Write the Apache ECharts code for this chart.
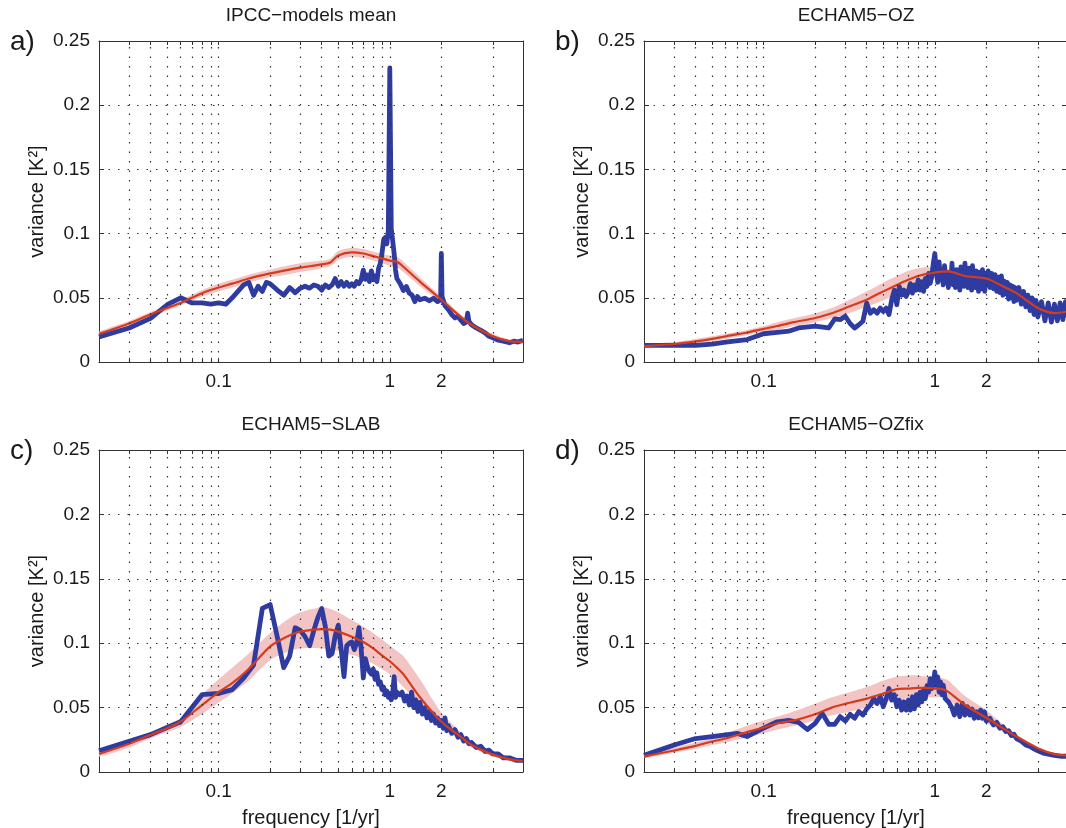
<!DOCTYPE html>
<html>
<head>
<meta charset="utf-8">
<script src="https://cdn.jsdelivr.net/npm/echarts@6/dist/echarts.min.js"></script>
<style>
  html, body { margin: 0; padding: 0; background: #fff; }
  #main { width: 1066px; height: 828px; }
</style>
</head>
<body>
<div id="main"></div>
<script>
// frequency grid of the smoothed (red) curves and their pink spread
var freqMean = [0.02,0.03,0.04,0.05,0.06,0.08,0.1,0.12,0.15,0.2,0.25,0.3,0.4,0.45,0.5,0.6,0.7,0.8,0.9,1.0,1.1,1.2,1.5,2,2.5,3,4,5,6];

var meanA = [0.0219,0.030,0.037,0.042,0.046,0.0536,0.058,0.061,0.065,0.069,0.0716,0.0735,0.076,0.0775,0.083,0.0853,0.0845,0.0825,0.0807,0.079,0.078,0.0742,0.0626,0.0485,0.0369,0.029,0.020,0.0162,0.0157];
var bandHiA = [0.0235,0.032,0.039,0.044,0.048,0.056,0.061,0.064,0.068,0.072,0.075,0.077,0.079,0.0805,0.0865,0.089,0.088,0.086,0.084,0.083,0.082,0.078,0.066,0.051,0.039,0.031,0.022,0.0175,0.017];
var bandLoA = [0.020,0.028,0.035,0.040,0.044,0.051,0.055,0.058,0.062,0.066,0.068,0.070,0.073,0.0745,0.0795,0.082,0.081,0.079,0.077,0.075,0.074,0.070,0.059,0.046,0.035,0.027,0.018,0.015,0.0145];

var meanB = [0.0124,0.014,0.016,0.018,0.020,0.023,0.0258,0.028,0.031,0.0343,0.038,0.042,0.0485,0.052,0.055,0.060,0.064,0.067,0.0686,0.0696,0.0704,0.0706,0.067,0.065,0.059,0.0536,0.042,0.038,0.0394];
var bandHiB = [0.0135,0.0155,0.018,0.020,0.022,0.025,0.028,0.031,0.034,0.038,0.042,0.047,0.055,0.0585,0.062,0.067,0.071,0.073,0.074,0.073,0.072,0.072,0.069,0.067,0.061,0.0555,0.044,0.040,0.041];
var bandLoB = [0.0115,0.013,0.0145,0.016,0.018,0.021,0.0235,0.025,0.028,0.031,0.034,0.037,0.043,0.0455,0.048,0.053,0.057,0.060,0.062,0.065,0.068,0.069,0.065,0.063,0.057,0.052,0.040,0.036,0.0375];

var meanC = [0.014,0.022,0.029,0.034,0.039,0.052,0.062,0.069,0.080,0.0975,0.105,0.109,0.111,0.1105,0.109,0.105,0.101,0.096,0.0905,0.086,0.081,0.076,0.058,0.039,0.029,0.021,0.0135,0.0098,0.0085];
var bandHiC = [0.016,0.024,0.031,0.037,0.042,0.060,0.072,0.081,0.092,0.108,0.118,0.124,0.128,0.1265,0.124,0.118,0.113,0.108,0.103,0.098,0.094,0.090,0.072,0.046,0.033,0.024,0.016,0.012,0.010];
var bandLoC = [0.012,0.019,0.026,0.031,0.035,0.045,0.054,0.061,0.071,0.087,0.093,0.096,0.096,0.095,0.094,0.091,0.088,0.084,0.080,0.076,0.071,0.066,0.052,0.036,0.026,0.019,0.012,0.009,0.007];

var meanD = [0.0121,0.0167,0.0203,0.0237,0.026,0.031,0.0345,0.0378,0.040,0.0448,0.050,0.053,0.057,0.059,0.061,0.0643,0.0648,0.0653,0.0653,0.0648,0.0643,0.0622,0.052,0.042,0.034,0.0275,0.0185,0.0139,0.0129];
var bandHiD = [0.014,0.019,0.023,0.026,0.030,0.036,0.040,0.043,0.047,0.053,0.058,0.061,0.066,0.0685,0.071,0.074,0.075,0.075,0.074,0.074,0.073,0.071,0.059,0.048,0.037,0.029,0.019,0.015,0.014];
var bandLoD = [0.011,0.015,0.018,0.021,0.023,0.027,0.030,0.033,0.036,0.040,0.044,0.046,0.050,0.052,0.054,0.056,0.057,0.058,0.058,0.058,0.058,0.056,0.046,0.038,0.031,0.025,0.017,0.012,0.011];

// observed spectra (blue)
var blueFreqA = [0.02,0.03,0.04,0.05,0.06,0.07,0.08,0.09,0.1,0.11,
  0.12,0.14,0.15,0.16,0.17,0.18,0.19,0.2,0.22,0.24,
  0.26,0.28,0.3,0.32,0.34,0.36,0.38,0.4,0.42,0.44,
  0.46,0.48,0.5,0.52,0.54,0.56,0.58,0.6,0.62,0.64,
  0.66,0.68,0.7,0.72,0.74,0.76,0.78,0.8,0.82,0.84,
  0.86,0.88,0.9,0.92,0.94,0.96,0.98,1.0,1.02,1.04,
  1.06,1.08,1.1,1.15,1.2,1.25,1.3,1.35,1.4,1.45,
  1.5,1.6,1.7,1.8,1.9,1.98,2.0,2.02,2.1,2.2,
  2.3,2.4,2.5,2.6,2.7,2.8,2.85,2.9,3.0,3.2,
  3.4,3.6,3.8,4.0,4.3,4.6,5.0,5.3,5.6,6.0];
var blueA = [0.0196,0.0265,0.034,0.0446,0.050,0.046,0.046,0.045,0.046,0.045,
  0.050,0.060,0.062,0.052,0.059,0.055,0.062,0.061,0.056,0.052,
  0.058,0.054,0.0575,0.059,0.0575,0.060,0.059,0.056,0.060,0.058,
  0.060,0.065,0.059,0.0626,0.059,0.062,0.059,0.061,0.059,0.0626,
  0.061,0.064,0.0716,0.0644,0.0678,0.0626,0.071,0.064,0.067,0.0626,
  0.073,0.0768,0.0845,0.095,0.097,0.092,0.102,0.229,0.104,0.1026,
  0.0845,0.0716,0.065,0.061,0.0557,0.0588,0.0536,0.052,0.047,0.051,
  0.0485,0.0497,0.0477,0.0497,0.047,0.0485,0.0845,0.051,0.0438,0.0407,
  0.0369,0.0343,0.0356,0.0325,0.030,0.031,0.038,0.0317,0.029,0.0265,
  0.0247,0.0227,0.020,0.0188,0.017,0.0162,0.015,0.0162,0.0155,0.017];

var blueFreqB = [0.02,0.03,0.04,0.05,0.06,0.08,0.1,0.12,0.14,0.16,
  0.2,0.24,0.26,0.28,0.3,0.32,0.34,0.36,0.38,0.4,
  0.42,0.44,0.46,0.48,0.5,0.52,0.54,0.56,0.58,0.6,
  0.62,0.64,0.66,0.68,0.7,0.72,0.74,0.76,0.78,0.8,
  0.82,0.84,0.86,0.88,0.9,0.92,0.94,0.96,0.98,1.0,
  1.02,1.04,1.06,1.08,1.1,1.12,1.14,1.16,1.18,1.2,
  1.22,1.24,1.26,1.28,1.3,1.32,1.34,1.36,1.38,1.4,
  1.42,1.44,1.46,1.48,1.5,1.52,1.54,1.56,1.58,1.6,
  1.62,1.64,1.66,1.68,1.7,1.72,1.74,1.76,1.78,1.8,
  1.82,1.84,1.86,1.88,1.9,1.92,1.94,1.96,1.98,2.0,
  2.05,2.1,2.15,2.2,2.25,2.3,2.35,2.4,2.45,2.5,
  2.55,2.6,2.65,2.7,2.75,2.8,2.85,2.9,2.95,3.0,
  3.1,3.2,3.3,3.4,3.5,3.6,3.7,3.8,3.9,4.0,
  4.2,4.4,4.6,4.8,5.0,5.2,5.4,5.6,5.8,6.0];
var blueB = [0.013,0.013,0.013,0.014,0.0155,0.0175,0.022,0.023,0.024,0.0265,
  0.028,0.0265,0.0335,0.033,0.0356,0.030,0.0265,0.029,0.0317,0.0459,
  0.038,0.0407,0.038,0.042,0.0394,0.042,0.0369,0.0485,0.056,0.0446,
  0.0588,0.052,0.056,0.051,0.055,0.061,0.0536,0.060,0.056,0.064,
  0.056,0.0626,0.055,0.065,0.0588,0.069,0.0613,0.0665,0.0768,0.0845,
  0.072,0.062,0.078,0.064,0.071,0.060,0.075,0.062,0.070,0.058,
  0.068,0.062,0.077,0.060,0.068,0.058,0.072,0.063,0.066,0.056,
  0.074,0.062,0.069,0.059,0.077,0.064,0.070,0.058,0.073,0.062,
  0.067,0.056,0.075,0.061,0.069,0.058,0.071,0.060,0.066,0.055,
  0.070,0.060,0.068,0.057,0.072,0.061,0.065,0.055,0.069,0.060,
  0.071,0.058,0.069,0.057,0.068,0.055,0.066,0.054,0.067,0.052,
  0.063,0.053,0.062,0.049,0.060,0.050,0.059,0.047,0.058,0.048,
  0.058,0.045,0.055,0.043,0.052,0.040,0.050,0.037,0.048,0.035,
  0.047,0.032,0.046,0.031,0.045,0.032,0.046,0.033,0.047,0.035];

var blueFreqC = [0.02,0.04,0.06,0.08,0.1,0.12,0.14,0.16,0.18,0.2,
  0.22,0.24,0.26,0.28,0.3,0.32,0.34,0.36,0.38,0.4,
  0.42,0.44,0.46,0.48,0.5,0.52,0.54,0.56,0.58,0.6,
  0.62,0.64,0.66,0.68,0.7,0.72,0.74,0.76,0.78,0.8,
  0.82,0.84,0.86,0.88,0.9,0.92,0.94,0.96,0.98,1.0,
  1.02,1.04,1.06,1.08,1.1,
  1.14,1.18,1.22,1.26,1.3,1.34,1.38,1.42,1.46,1.5,
  1.55,1.6,1.65,1.7,1.75,1.8,1.85,1.9,1.95,2.0,2.05,2.1,2.15,2.2,
  2.3,2.4,2.5,2.6,2.7,2.8,2.9,3.0,
  3.2,3.4,3.6,3.8,4.0,
  4.3,4.6,5.0,5.5,6.0];
var blueC = [0.0165,0.029,0.039,0.060,0.061,0.064,0.073,0.083,0.127,0.130,
  0.105,0.081,0.090,0.112,0.110,0.105,0.098,0.110,0.120,0.127,
  0.113,0.090,0.092,0.106,0.114,0.095,0.074,0.098,0.100,0.101,
  0.095,0.100,0.112,0.096,0.073,0.088,0.082,0.078,0.076,0.080,
  0.072,0.077,0.068,0.070,0.064,0.066,0.060,0.063,0.058,0.061,
  0.056,0.062,0.074,0.058,0.062,
  0.060,0.062,0.055,0.059,0.052,0.062,0.050,0.056,0.047,0.054,
  0.045,0.050,0.042,0.047,0.040,0.045,0.038,0.042,0.036,0.040,0.034,0.042,0.032,0.036,
  0.030,0.033,0.027,0.029,0.024,0.026,0.022,0.023,
  0.019,0.020,0.016,0.017,0.014,
  0.014,0.011,0.011,0.009,0.009];

var blueFreqD = [0.02,0.03,0.04,0.05,0.06,0.07,0.08,0.09,0.1,
  0.12,0.14,0.16,0.18,0.2,0.22,0.24,0.26,0.28,0.3,
  0.32,0.34,0.36,0.38,0.4,0.42,0.44,0.46,0.48,0.5,
  0.52,0.54,0.56,0.58,0.6,0.62,0.64,0.66,0.68,0.7,
  0.72,0.74,0.76,0.78,0.8,0.82,0.84,0.86,0.88,0.9,
  0.92,0.94,0.96,0.98,1.0,1.02,1.04,1.06,1.08,1.1,1.12,
  1.15,1.2,1.25,1.3,1.35,1.4,1.45,1.5,1.55,1.6,1.65,1.7,1.75,1.8,1.85,1.9,1.95,2.0,
  2.1,2.2,2.3,2.4,2.5,2.6,2.7,2.8,2.9,3.0,
  3.2,3.4,3.6,3.8,4.0,
  4.3,4.6,5.0,5.5,6.0];
var blueD = [0.0129,0.021,0.026,0.0275,0.0288,0.030,0.0275,0.031,0.034,
  0.039,0.040,0.0386,0.033,0.0378,0.0455,0.037,0.037,0.043,0.0396,
  0.0448,0.0417,0.047,0.0442,0.049,0.052,0.057,0.0532,0.0584,0.0507,
  0.057,0.0648,0.0558,0.060,0.0507,0.0558,0.048,0.0545,0.048,0.0558,
  0.048,0.0584,0.049,0.060,0.052,0.062,0.0545,0.0635,0.057,0.067,
  0.062,0.0725,0.0648,0.0687,0.0777,0.0674,0.0738,0.062,0.070,0.060,0.0674,
  0.057,0.0545,0.0507,0.0442,0.052,0.043,0.0532,0.0442,0.0507,0.0442,0.049,0.0417,0.0468,0.042,0.048,0.0417,0.0468,0.0396,
  0.0417,0.0365,0.0386,0.034,0.0352,0.0314,0.032,0.0283,0.0293,0.026,
  0.024,0.021,0.0198,0.018,0.0165,
  0.0147,0.0139,0.0129,0.0121,0.0123];

// axis decoration
var gridFreqs = [0.03,0.04,0.05,0.06,0.07,0.08,0.09,0.1,0.2,0.3,0.4,0.5,0.6,0.7,0.8,0.9,1,2,4];
var xTickLabels = [0.1, 1, 2];

var FONT = '"Liberation Sans", Arial, Helvetica, sans-serif';
var INK = '#1a1a1a';
var BLUE = '#2e3ca2';
var RED = '#d63c1c';
var PINK = '#f3c4c4';

function pairs(xs, ys) {
  return xs.map(function (x, i) { return [x, ys[i]]; });
}

// pink spread: polygon along the upper edge and back along the lower one
function bandRenderer(hi, lo) {
  return function (params, api) {
    if (params.dataIndex !== 0) return null;
    var pts = [], i;
    for (i = 0; i < freqMean.length; i++) pts.push(api.coord([freqMean[i], hi[i]]));
    for (i = freqMean.length - 1; i >= 0; i--) pts.push(api.coord([freqMean[i], lo[i]]));
    return {
      type: 'polygon',
      shape: { points: pts, smooth: 0.25 },
      style: { fill: PINK, stroke: null },
      silent: true
    };
  };
}

var panels = [
  { letter: 'a)', title: 'IPCC\u2212models mean', left: 99, top: 41, height: 321, bf: blueFreqA, b: blueA, m: meanA, hi: bandHiA, lo: bandLoA, xname: '' },
  { letter: 'b)', title: 'ECHAM5\u2212OZ', left: 644, top: 41, height: 321, bf: blueFreqB, b: blueB, m: meanB, hi: bandHiB, lo: bandLoB, xname: '' },
  { letter: 'c)', title: 'ECHAM5\u2212SLAB', left: 99, top: 450, height: 322, bf: blueFreqC, b: blueC, m: meanC, hi: bandHiC, lo: bandLoC, xname: 'frequency [1/yr]' },
  { letter: 'd)', title: 'ECHAM5\u2212OZfix', left: 644, top: 450, height: 322, bf: blueFreqD, b: blueD, m: meanD, hi: bandHiD, lo: bandLoD, xname: 'frequency [1/yr]' }
];
var PW = 424;

var grids = [], xAxes = [], yAxes = [], series = [], graphics = [];
var dotted = { color: '#333', width: 1.2, type: [1.5, 8] };
var frame = { show: true, onZero: false, lineStyle: { color: '#333', width: 1 } };

panels.forEach(function (p, i) {
  grids.push({ left: p.left, top: p.top, width: PW, height: p.height, outerBoundsMode: 'none', containLabel: false });

  xAxes.push({
    gridIndex: i, type: 'log', logBase: 10, min: 0.02, max: 6, position: 'bottom',
    name: p.xname, nameLocation: 'middle', nameGap: 36,
    nameTextStyle: { fontFamily: FONT, fontSize: 20, color: INK },
    axisLine: frame,
    axisTick: { show: true, inside: true, length: 4, customValues: gridFreqs, lineStyle: { color: '#333' } },
    axisLabel: { customValues: xTickLabels, margin: 10, fontFamily: FONT, fontSize: 19, color: INK,
      formatter: function (v) { return String(v); } },
    splitLine: { show: false }
  });
  xAxes.push({
    gridIndex: i, type: 'log', logBase: 10, min: 0.02, max: 6, position: 'top',
    axisLine: frame,
    axisTick: { show: true, inside: true, length: 4, customValues: gridFreqs, lineStyle: { color: '#333' } },
    axisLabel: { show: false },
    splitLine: { show: false }
  });

  yAxes.push({
    gridIndex: i, type: 'value', min: 0, max: 0.25, interval: 0.05, position: 'left',
    name: 'variance [K\u00b2]', nameLocation: 'middle', nameGap: 52,
    nameTextStyle: { fontFamily: FONT, fontSize: 20, color: INK },
    axisLine: frame,
    axisTick: { show: true, inside: true, length: 5, lineStyle: { color: '#333' } },
    axisLabel: { margin: 9, fontFamily: FONT, fontSize: 19, color: INK },
    splitLine: { show: true, lineStyle: dotted }
  });
  yAxes.push({
    gridIndex: i, type: 'value', min: 0, max: 0.25, interval: 0.05, position: 'right',
    axisLine: frame,
    axisTick: { show: true, inside: true, length: 5, lineStyle: { color: '#333' } },
    axisLabel: { show: false },
    splitLine: { show: false }
  });

  var xi = i * 2, yi = i * 2;
  series.push({
    type: 'custom', xAxisIndex: xi, yAxisIndex: yi, z: 1, silent: true, clip: true,
    data: [[freqMean[0], p.m[0]]],
    renderItem: bandRenderer(p.hi, p.lo),
    markLine: {
      silent: true, symbol: ['none', 'none'], label: { show: false },
      lineStyle: dotted, animation: false,
      data: gridFreqs.map(function (f) { return { xAxis: f }; })
    }
  });
  series.push({
    type: 'line', xAxisIndex: xi, yAxisIndex: yi,
    data: pairs(p.bf, p.b), symbol: 'none', z: 3,
    lineStyle: { color: BLUE, width: 4.8, join: 'round' }
  });
  series.push({
    type: 'line', xAxisIndex: xi, yAxisIndex: yi,
    data: pairs(freqMean, p.m), symbol: 'none', z: 4, smooth: 0.25,
    lineStyle: { color: RED, width: 2.2 }
  });

  var cx = p.left + PW / 2;
  graphics.push({
    type: 'text', x: cx, y: p.top - 25,
    style: { text: p.title, font: '19px ' + FONT, fill: INK, textAlign: 'center', align: 'center', textVerticalAlign: 'middle', verticalAlign: 'middle' }
  });
  graphics.push({
    type: 'text', x: p.left - 89, y: p.top + 1,
    style: { text: p.letter, font: '28px ' + FONT, fill: INK, textAlign: 'left', align: 'left', textVerticalAlign: 'middle', verticalAlign: 'middle' }
  });
});

var chart = echarts.init(document.getElementById('main'), null, { renderer: 'canvas' });
chart.setOption({
  animation: false,
  backgroundColor: '#fff',
  textStyle: { fontFamily: FONT },
  grid: grids,
  xAxis: xAxes,
  yAxis: yAxes,
  series: series,
  graphic: graphics
});
</script>
</body>
</html>
